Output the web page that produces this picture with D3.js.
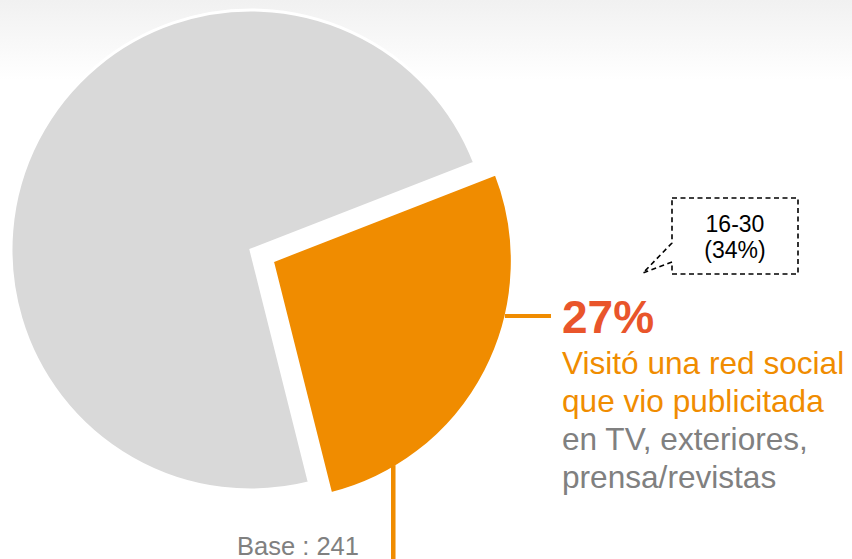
<!DOCTYPE html>
<html>
<head>
<meta charset="utf-8">
<script src="https://cdn.jsdelivr.net/npm/d3@7"></script>
<style>
  html, body { margin: 0; padding: 0; background: #fff; }
  svg { display: block; font-family: "Liberation Sans", Arial, sans-serif; }
</style>
</head>
<body>
<svg id="chart" width="852" height="559"></svg>
<script>
// Share of respondents (%), highlighted slice first
const categories = ["Visitó una red social que vio publicitada", "Resto"];
const values = [27, 73];
const sliceColors = ["#F08C00", "#D9D9D9"];
const headline = "27%";
const labelLinesAccent = ["Visitó una red social", "que vio publicitada"];
const labelLinesMuted = ["en TV, exteriores,", "prensa/revistas"];
const calloutLines = ["16-30", "(34%)"];
const baseNote = "Base : 241";

const W = 852, H = 559;
const svg = d3.select("#chart");

// soft grey wash along the top edge
const defs = svg.append("defs");
const grad = defs.append("linearGradient").attr("id", "topWash")
  .attr("x1", 0).attr("y1", 0).attr("x2", 0).attr("y2", 1);
grad.append("stop").attr("offset", "0%").attr("stop-color", "#F1F1F1");
grad.append("stop").attr("offset", "100%").attr("stop-color", "#FFFFFF");
svg.append("rect").attr("width", W).attr("height", H).attr("fill", "#fff");
svg.append("rect").attr("width", W).attr("height", 80).attr("fill", "url(#topWash)");

const cx = 251, cy = 250, R = 240, explode = 24;
const deg = Math.PI / 180;
const start = 68.7 * deg;

const pie = d3.pie().sort(null).value(d => d).startAngle(start).endAngle(start + 2 * Math.PI);
const arcs = pie(values);
const arc = d3.arc().innerRadius(0).outerRadius(R);

function offsetOf(a, i) {
  if (i !== 0) return [0, 0];
  const m = (a.startAngle + a.endAngle) / 2;
  return [Math.sin(m) * explode, -Math.cos(m) * explode];
}

const g = svg.append("g").attr("transform", `translate(${cx},${cy})`);
// draw grey first so the pulled-out slice sits on top
[1, 0].forEach(i => {
  const a = arcs[i];
  const [ox, oy] = offsetOf(a, i);
  g.append("path")
    .attr("d", arc(a))
    .attr("transform", `translate(${ox},${oy})`)
    .attr("fill", sliceColors[i])
    .attr("stroke", "#fff")
    .attr("stroke-width", 3)
    .attr("stroke-linejoin", "miter");
});

// leader lines leave the highlighted slice's rim
const hl = arcs[0];
const [hx, hy] = offsetOf(hl, 0);
function rimPoint(angleDeg) {
  const t = angleDeg * deg;
  return [cx + hx + Math.sin(t) * (R - 1), cy + hy - Math.cos(t) * (R - 1)];
}
const lineColor = "#F08C00";
const p1 = rimPoint(103.3);
svg.append("line")
  .attr("x1", p1[0]).attr("y1", p1[1]).attr("x2", 551).attr("y2", p1[1])
  .attr("stroke", lineColor).attr("stroke-width", 4);
const p2 = rimPoint(149.6);
svg.append("line")
  .attr("x1", p2[0]).attr("y1", p2[1] - 2).attr("x2", p2[0]).attr("y2", H)
  .attr("stroke", lineColor).attr("stroke-width", 4.5);

// headline value and description
const tx = 562;
svg.append("text").attr("x", tx).attr("y", 333)
  .attr("font-size", 46).attr("font-weight", "bold").attr("fill", "#E9552B")
  .text(headline);
labelLinesAccent.forEach((t, i) => {
  svg.append("text").attr("x", tx).attr("y", 374 + i * 38)
    .attr("font-size", 31.6).attr("fill", "#F08C00").text(t);
});
labelLinesMuted.forEach((t, i) => {
  svg.append("text").attr("x", tx).attr("y", 450 + i * 37.5)
    .attr("font-size", 31.6).attr("fill", "#808080").text(t);
});

// dashed speech-bubble callout
const bx0 = 672, bx1 = 798, by0 = 198, by1 = 274;
const bubble = d3.path();
bubble.moveTo(bx0, by0);
bubble.lineTo(bx1, by0);
bubble.lineTo(bx1, by1);
bubble.lineTo(bx0, by1);
bubble.lineTo(bx0, 262);
bubble.lineTo(643, 273);
bubble.lineTo(bx0, 243);
bubble.closePath();
svg.append("path").attr("d", bubble.toString())
  .attr("fill", "#fff").attr("stroke", "#000")
  .attr("stroke-width", 1.6).attr("stroke-dasharray", "5,3.5");
calloutLines.forEach((t, i) => {
  svg.append("text").attr("x", (bx0 + bx1) / 2).attr("y", 232 + i * 25.5)
    .attr("text-anchor", "middle").attr("font-size", 23).attr("fill", "#000").text(t);
});

// sample size note
svg.append("text").attr("x", 237).attr("y", 555)
  .attr("font-size", 25.5).attr("fill", "#808080").text(baseNote);
</script>
</body>
</html>
